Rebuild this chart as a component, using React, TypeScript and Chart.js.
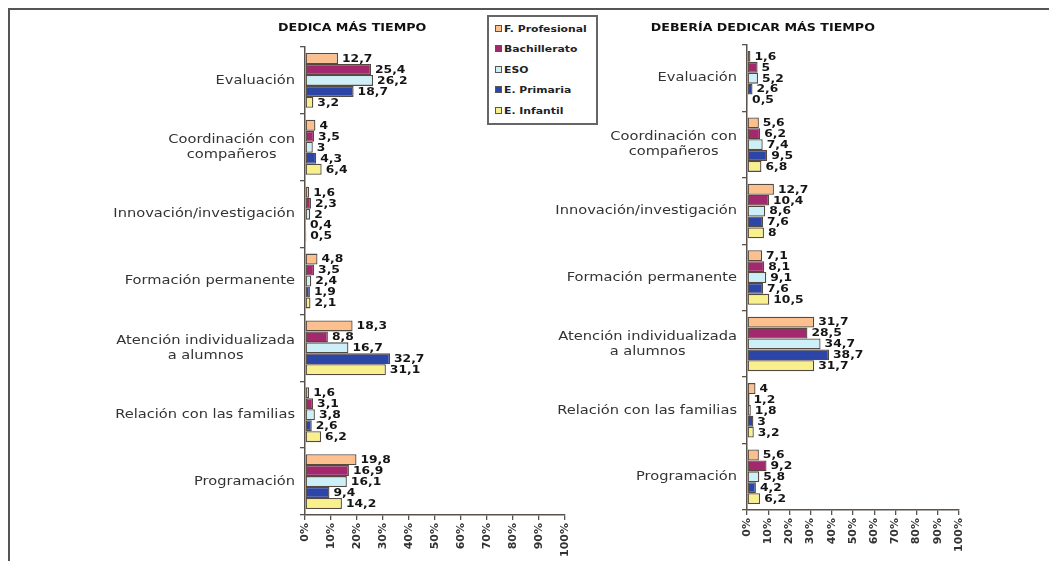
import React, { useEffect, useRef } from "react";
import { Chart, registerables } from "chart.js";

Chart.register(...registerables);

// ---------- DATA ----------
const categories: string[][] = [
  ["Evaluación"],
  ["Coordinación con", "compañeros"],
  ["Innovación/investigación"],
  ["Formación permanente"],
  ["Atención individualizada", "a alumnos"],
  ["Relación con las familias"],
  ["Programación"],
];
const seriesNames = ["F. Profesional", "Bachillerato", "ESO", "E. Primaria", "E. Infantil"];
const seriesColors = ["#fbc08e", "#a4286e", "#cdeff8", "#2c46a8", "#f7f08c"];

const dedicaFP = [12.7, 4, 1.6, 4.8, 18.3, 1.6, 19.8];
const dedicaBach = [25.4, 3.5, 2.3, 3.5, 8.8, 3.1, 16.9];
const dedicaESO = [26.2, 3, 2, 2.4, 16.7, 3.8, 16.1];
const dedicaPrim = [18.7, 4.3, 0.4, 1.9, 32.7, 2.6, 9.4];
const dedicaInf = [3.2, 6.4, 0.5, 2.1, 31.1, 6.2, 14.2];

const deberiaFP = [1.6, 5.6, 12.7, 7.1, 31.7, 4, 5.6];
const deberiaBach = [5, 6.2, 10.4, 8.1, 28.5, 1.2, 9.2];
const deberiaESO = [5.2, 7.4, 8.6, 9.1, 34.7, 1.8, 5.8];
const deberiaPrim = [2.6, 9.5, 7.6, 7.6, 38.7, 3, 4.2];
const deberiaInf = [0.5, 6.8, 8, 10.5, 31.7, 3.2, 6.2];

const titleLeft = "DEDICA MÁS TIEMPO";
const titleRight = "DEBERÍA DEDICAR MÁS TIEMPO";
const xMin = 0;
const xMax = 100;
const xStep = 10;

// ---------- STYLE ----------
const FONT = '"DejaVu Sans", Verdana, sans-serif';
const AXIS = "#5a524c";
const SX_CAT = 1.17;
const SX_VAL = 1.12;

const catLabelPlugin = {
  id: "catLabels",
  afterDraw(chart: any) {
    const ctx = chart.ctx;
    const y = chart.scales.y;
    const left = chart.chartArea.left;
    const labels = chart.data.labels as string[][];
    ctx.save();
    ctx.font = `12.5px ${FONT}`;
    ctx.fillStyle = "#333";
    ctx.textBaseline = "middle";
    ctx.textAlign = "center";
    labels.forEach((lines, i) => {
      const cy = y.getPixelForValue(i);
      const widths = lines.map((l) => ctx.measureText(l).width * SX_CAT);
      const maxW = Math.max(...widths);
      const cx = left - 10 - maxW / 2;
      const lh = 15;
      lines.forEach((l, j) => {
        const ly = cy + (j - (lines.length - 1) / 2) * lh;
        ctx.save();
        ctx.translate(cx, ly);
        ctx.scale(SX_CAT, 1);
        ctx.fillText(l, 0, 0);
        ctx.restore();
      });
    });
    ctx.restore();
  },
};

const valueLabelPlugin = {
  id: "valueLabels",
  afterDatasetsDraw(chart: any) {
    const ctx = chart.ctx;
    ctx.save();
    ctx.font = `bold 11px ${FONT}`;
    ctx.fillStyle = "#151515";
    ctx.textBaseline = "middle";
    ctx.textAlign = "left";
    chart.data.datasets.forEach((ds: any, di: number) => {
      const meta = chart.getDatasetMeta(di);
      meta.data.forEach((el: any, i: number) => {
        const v = ds.data[i];
        const txt = String(v).replace(".", ",");
        ctx.save();
        ctx.translate(el.x + 4, el.y + 0.5);
        ctx.scale(SX_VAL, 1);
        ctx.fillText(txt, 0, 0);
        ctx.restore();
      });
    });
    ctx.restore();
  },
};

function makeConfig(series: number[][], yWidth: number, xHeight: number, padTop: number, padRight: number): any {
  return {
    type: "bar",
    data: {
      labels: categories,
      datasets: series.map((d, i) => ({
        label: seriesNames[i],
        data: d,
        backgroundColor: seriesColors[i],
        borderColor: "#554a42",
        borderWidth: 1.3,
        borderSkipped: false,
        barPercentage: 1,
        categoryPercentage: 0.82,
      })),
    },
    options: {
      indexAxis: "y",
      responsive: false,
      animation: false,
      devicePixelRatio: 1,
      layout: { padding: { left: 0, top: padTop, right: padRight, bottom: 0 } },
      plugins: { legend: { display: false }, tooltip: { enabled: false }, title: { display: false } },
      scales: {
        x: {
          min: xMin,
          max: xMax,
          ticks: {
            stepSize: xStep,
            autoSkip: false,
            minRotation: 90,
            maxRotation: 90,
            padding: 3,
            color: "#333",
            font: { family: FONT, size: 11, weight: "bold" },
            callback: (v: any) => `${v}%`,
          },
          grid: { drawOnChartArea: false, drawTicks: true, tickLength: 5, color: AXIS, lineWidth: 1.3 },
          border: { color: AXIS, width: 1.5 },
          afterFit: (s: any) => {
            s.height = xHeight;
          },
        },
        y: {
          ticks: { display: false },
          grid: { offset: true, drawOnChartArea: false, drawTicks: true, tickLength: 5, color: AXIS, lineWidth: 1.3 },
          border: { color: AXIS, width: 1.5 },
          afterFit: (s: any) => {
            s.width = yWidth;
          },
        },
      },
    },
    plugins: [catLabelPlugin, valueLabelPlugin],
  };
}

function BarCanvas(props: { series: number[][]; left: number; width: number; yWidth: number; xHeight: number; padTop: number; padRight: number }) {
  const ref = useRef<HTMLCanvasElement | null>(null);
  useEffect(() => {
    if (!ref.current) return;
    const chart = new Chart(ref.current, makeConfig(props.series, props.yWidth, props.xHeight, props.padTop, props.padRight));
    return () => chart.destroy();
  }, []);
  return (
    <canvas
      ref={ref}
      width={props.width}
      height={553}
      style={{ position: "absolute", left: props.left, top: 0, width: props.width, height: 553 }}
    />
  );
}

export default function App() {
  const legendTop = 7;
  return (
    <div style={{ position: "relative", width: 1041, height: 553, overflow: "hidden", background: "#fff", fontFamily: FONT }}>
      <div
        style={{
          position: "absolute",
          left: 0,
          top: 0,
          width: 1100,
          height: 600,
          borderTop: "2px solid #555",
          borderLeft: "2px solid #555",
          boxSizing: "border-box",
        }}
      />
      <BarCanvas
        series={[dedicaFP, dedicaBach, dedicaESO, dedicaPrim, dedicaInf]}
        left={0}
        width={600}
        yWidth={297}
        xHeight={46}
        padTop={39}
        padRight={43}
      />
      <BarCanvas
        series={[deberiaFP, deberiaBach, deberiaESO, deberiaPrim, deberiaInf]}
        left={440}
        width={601}
        yWidth={299}
        xHeight={51}
        padTop={37}
        padRight={90}
      />
      <div
        style={{
          position: "absolute",
          left: 270,
          top: 13,
          fontSize: 11,
          fontWeight: "bold",
          color: "#111",
          whiteSpace: "nowrap",
          transform: "scaleX(1.15)",
          transformOrigin: "left center",
          lineHeight: "14px",
        }}
      >
        {titleLeft}
      </div>
      <div
        style={{
          position: "absolute",
          right: 174,
          top: 13,
          fontSize: 11,
          fontWeight: "bold",
          color: "#111",
          whiteSpace: "nowrap",
          transform: "scaleX(1.15)",
          transformOrigin: "right center",
          lineHeight: "14px",
        }}
      >
        {titleRight}
      </div>
      <div
        style={{
          position: "absolute",
          left: 479,
          top: legendTop,
          width: 111,
          height: 110,
          border: "2px solid #666",
          boxSizing: "border-box",
          background: "#fff",
        }}
      >
        {seriesNames.map((n, i) => (
          <div
            key={n}
            style={{
              position: "absolute",
              left: 6,
              top: 13 + i * 20.5 - 2 - 7,
              height: 14,
              display: "flex",
              alignItems: "center",
              whiteSpace: "nowrap",
            }}
          >
            <span
              style={{
                display: "inline-block",
                width: 5,
                height: 5,
                border: "1px solid #555",
                background: seriesColors[i],
                marginRight: 2,
              }}
            />
            <span
              style={{
                fontSize: 9.5,
                fontWeight: "bold",
                color: "#222",
                display: "inline-block",
                transform: "scaleX(1.14)",
                transformOrigin: "left center",
              }}
            >
              {n}
            </span>
          </div>
        ))}
      </div>
    </div>
  );
}
